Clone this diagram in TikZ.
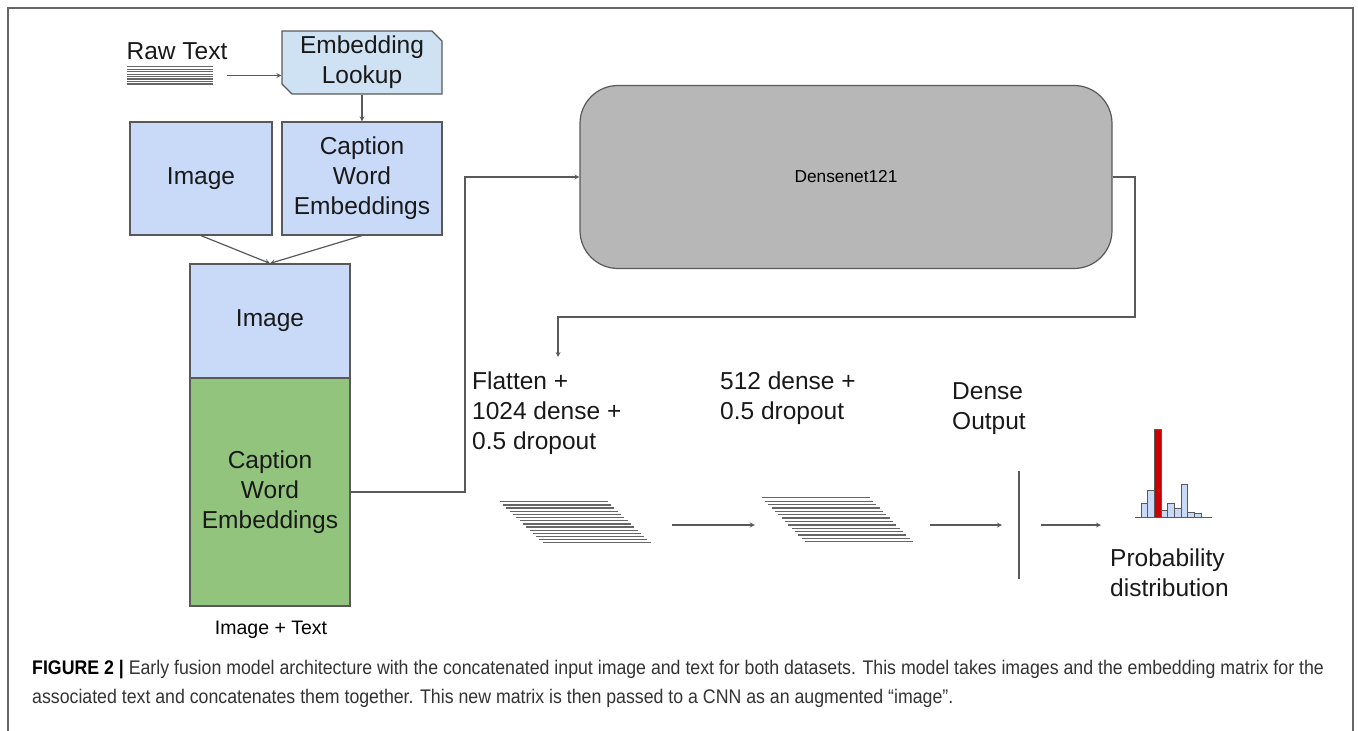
\documentclass[tikz,border=0pt]{standalone}
\usepackage{fontspec}
\setmainfont{Liberation Sans}
\newfontfamily\capfont[FakeStretch=0.9]{Liberation Sans}
\usepackage{tikz}
\usetikzlibrary{shapes}
\usetikzlibrary{arrows}
\usetikzlibrary{calc}
\definecolor{boxblue}{HTML}{C9DAF8}
\definecolor{lookblue}{HTML}{CFE2F3}
\definecolor{boxgreen}{HTML}{93C47D}
\definecolor{netgray}{HTML}{B7B7B7}
\definecolor{edge}{HTML}{595959}
\definecolor{barred}{HTML}{CC0000}
\tikzstyle{lbl}=[font=\fontsize{24.5}{30}\selectfont,inner sep=0pt,text=black!90]
\tikzstyle{bloc}=[rectangle,draw=edge,line width=1.2pt,align=center,lbl]
\tikzstyle{blocbleu}=[bloc,fill=boxblue]
\tikzstyle{blocvert}=[bloc,fill=boxgreen]
\tikzstyle{lookup}=[
        chamfered rectangle,
        chamfered rectangle corners={north east,south west},
        chamfered rectangle xsep=5pt,
        chamfered rectangle ysep=5pt,
        draw=edge,line width=1.2pt,fill=lookblue,
        align=center,lbl,
        minimum width=160pt,minimum height=47pt
]
\tikzstyle{reseau}=[rectangle,rounded corners=38pt,draw=edge,line width=1.2pt,fill=netgray,
        minimum width=532pt,minimum height=183pt,font=\fontsize{17.3}{20}\selectfont]
\tikzstyle{texte}=[lbl,align=left,anchor=north west]
\tikzstyle{couche}=[line width=1.3pt,draw=black!60]
\tikzstyle{suite}=[->,>=stealth,line width=1.2pt,draw=edge]

\begin{document}
\begin{tikzpicture}[x=1pt,y=-1pt]
\useasboundingbox (0,0) rectangle (1358,731);
\draw[line width=1.5pt,draw=black!60] (8,731) -- (8,8) -- (1353,8) -- (1353,731);
%entree texte
\node[lbl] (raw) at (177,51) {Raw Text};
\node[minimum width=86pt,minimum height=18pt,inner sep=0pt] (rawlines) at (170,75.5) {};
\foreach \i in {0,...,7}
  \draw[couche] ($(rawlines.north west)+(0,{\i*2.45+0.5})$) -- ++(86,0);
\node[lookup] (lookup) at (362,62.5) {Embedding\\Lookup};
\node[blocbleu,minimum width=142pt,minimum height=113pt] (img) at (201,178.5) {Image};
\node[blocbleu,minimum width=160pt,minimum height=113pt] (capt) at (362,178.5) {Caption\\Word\\Embeddings};
%matrice concatenee
\node[blocbleu,minimum width=160pt,minimum height=114pt] (stackimg) at (270,321) {Image};
\node[blocvert,minimum width=160pt,minimum height=228pt] (stacktxt) at (270,492) {Caption\\Word\\Embeddings};
\node[font=\fontsize{19.5}{23}\selectfont] (concat) at (271,630) {Image + Text};
%cnn
\node[reseau] (dense) at (846,177) {Densenet121};
\coordinate (j1) at (465,0);
\coordinate (j2) at (1135,317);
\coordinate (drop) at (558,357);
%couches denses
\node[texte] (flat) at (472,372) {Flatten +\\1024 dense +\\0.5 dropout};
\node[texte] (mid) at (720,372) {512 dense +\\0.5 dropout};
\node[texte] (outlab) at (952,382) {Dense\\Output};
\node[texte] (prob) at (1110,549) {Probability\\distribution};
\node[minimum width=150pt,minimum height=46pt,inner sep=0pt] (fc1) at (575,525) {};
\node[minimum width=151pt,minimum height=54pt,inner sep=0pt] (fc2) at (837.5,525) {};
\foreach \i in {0,...,13}
  \draw[couche] ($(fc1.north west)+({\i*43/13},{\i*41/13})$) -- ++(108,0);
\foreach \i in {0,...,13}
  \draw[couche] ($(fc2.north west)+({\i*43/13},{\i*44/13})$) -- ++(108,0);
\node[fill=edge,inner sep=0pt,minimum width=1.6pt,minimum height=108pt] (outl) at (1019,525) {};
%histogramme
\node[minimum width=77pt,minimum height=88pt,inner sep=0pt] (hist) at (1173.5,473) {};
\foreach \t/\c [count=\k from 0] in {503/boxblue,490/boxblue,429/barred,510/boxblue,503/boxblue,508/boxblue,484/boxblue,512/boxblue,513/boxblue}
  \draw[line width=0.9pt,draw=edge,fill=\c] ({1141+\k*6.7},517) rectangle ++(6.7,{\t-517});
\draw[line width=1pt,draw=edge] (hist.south west) -- (hist.south east);
%fleches
\draw[suite] ([xshift=14pt]rawlines.east) -- (rawlines.east -| lookup.west);
\draw[suite] (lookup.south) -- (capt.north);
\draw[suite] (img.south) -- (stackimg.north);
\draw[suite] (capt.south) -- (stackimg.north);
\draw[suite] (stacktxt.east) -- (stacktxt.east -| j1) |- (dense.west);
\draw[suite] (dense.east) -| (j2) -| (drop);
\draw[suite] ([xshift=22pt]fc1.east) -- ([xshift=-7pt]fc2.west);
\draw[suite] ([xshift=17pt]fc2.east) -- ([xshift=-16pt]outl.west);
\draw[suite] ([xshift=21pt]outl.east) -- ($(outl.east)+(81,0)$);
%legende
\node[anchor=base west,align=left,inner sep=0pt,text=black!80,
      font=\capfont\fontsize{19.7}{29}\selectfont] (legende) at (32,703)
  {\textbf{\color{black}FIGURE 2 |} Early fusion model architecture with the concatenated input image and text for both datasets. This model takes images and the embedding matrix for the\\
   associated text and concatenates them together. This new matrix is then passed to a CNN as an augmented “image”.};
\end{tikzpicture}
\end{document}
